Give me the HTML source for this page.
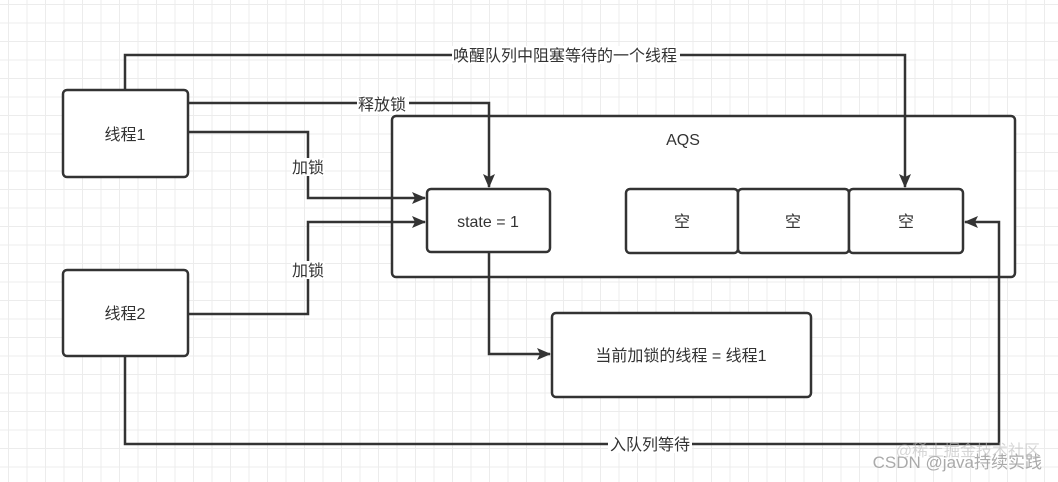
<!DOCTYPE html>
<html><head><meta charset="utf-8"><style>
html,body{margin:0;padding:0;}
body{width:1058px;height:482px;overflow:hidden;background-color:#fff;
background-image:linear-gradient(#ececec 1px,transparent 1px),linear-gradient(90deg,#ececec 1px,transparent 1px);
background-size:18.5px 18.5px;background-position:8px 4px;}
svg{position:absolute;left:0;top:0;}
text{font-family:"Liberation Sans","Noto Sans CJK SC",sans-serif;font-size:16px;fill:#333;}
</style></head><body>
<svg width="1058" height="482" viewBox="0 0 1058 482">
<defs><marker id="a" markerWidth="14" markerHeight="14" refX="13" refY="6" orient="auto" markerUnits="userSpaceOnUse"><path d="M0,0 L14,6 L0,12 L3,6 Z" fill="#333"/></marker></defs>
<g fill="#fff" stroke="#333" stroke-width="2.5">
<rect x="392" y="116" width="623" height="161" rx="4"/>
<rect x="63" y="90" width="125" height="87" rx="4"/>
<rect x="63" y="270" width="125" height="86" rx="4"/>
<rect x="427" y="189" width="123" height="63" rx="4"/>
<rect x="626" y="189" width="112" height="64" rx="4"/>
<rect x="738" y="189" width="111" height="64" rx="4"/>
<rect x="849" y="189" width="114" height="64" rx="4"/>
<rect x="552" y="313" width="259" height="84" rx="4"/>
</g>
<g fill="none" stroke="#333" stroke-width="2.5">
<path d="M125,90 V55 H905 V187" marker-end="url(#a)"/>
<path d="M188,103 H489 V187" marker-end="url(#a)"/>
<path d="M188,132 H308 V198 H425" marker-end="url(#a)"/>
<path d="M188,314 H308 V222 H425" marker-end="url(#a)"/>
<path d="M489,252 V354 H550" marker-end="url(#a)"/>
<path d="M125,356 V444 H999 V222 H965" marker-end="url(#a)"/>
</g>
<g fill="#fff">
<rect x="452" y="46" width="228" height="18"/>
<rect x="357" y="96" width="52" height="18"/>
<rect x="291" y="158" width="34" height="18"/>
<rect x="291" y="261" width="34" height="18"/>
<rect x="608" y="435" width="84" height="18"/>
</g>
<text x="565" y="61" text-anchor="middle">唤醒队列中阻塞等待的一个线程</text>
<text x="382" y="110" text-anchor="middle">释放锁</text>
<text x="308" y="173" text-anchor="middle">加锁</text>
<text x="308" y="276" text-anchor="middle">加锁</text>
<text x="650" y="450" text-anchor="middle">入队列等待</text>
<text x="125" y="140" text-anchor="middle">线程1</text>
<text x="125" y="319" text-anchor="middle">线程2</text>
<text x="683" y="145" text-anchor="middle">AQS</text>
<text x="488" y="227" text-anchor="middle">state = 1</text>
<text x="682" y="227" text-anchor="middle">空</text>
<text x="793" y="227" text-anchor="middle">空</text>
<text x="906" y="227" text-anchor="middle">空</text>
<text x="681" y="361" text-anchor="middle">当前加锁的线程 = 线程1</text>
<text x="1042" y="468" text-anchor="end" style="font-size:17px;fill:#aaa">CSDN @java持续实践</text>
<text x="1040" y="456" text-anchor="end" style="font-size:16px;fill:#bbb;opacity:.6">@稀土掘金技术社区</text>
</svg>
</body></html>
